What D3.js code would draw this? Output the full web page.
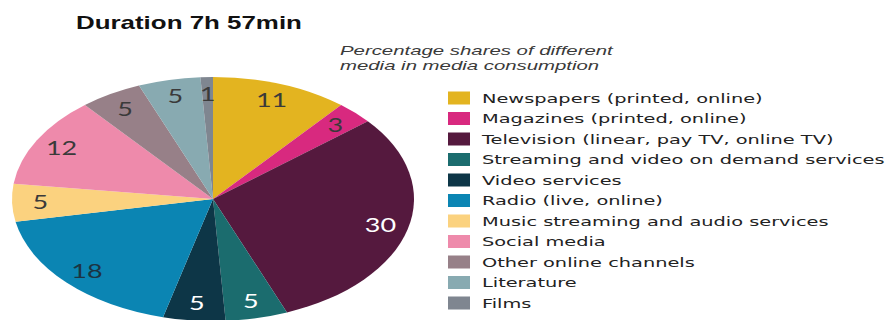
<!DOCTYPE html>
<html>
<head>
<meta charset="utf-8">
<script src="https://cdn.jsdelivr.net/npm/d3@7"></script>
<style>
  body { margin: 0; background: #fff; }
  svg { display: block; }
</style>
</head>
<body>
<script>
// Media consumption shares (percent), total duration 7h 57min
const categories = [
  "Newspapers (printed, online)",
  "Magazines (printed, online)",
  "Television (linear, pay TV, online TV)",
  "Streaming and video on demand services",
  "Video services",
  "Radio (live, online)",
  "Music streaming and audio services",
  "Social media",
  "Other online channels",
  "Literature",
  "Films"
];
const values = [11, 3, 30, 5, 5, 18, 5, 12, 5, 5, 1];
const colors = [
  "#e3b420", "#d8297f", "#55193e", "#1b6c6e", "#0d3647", "#0b85b3",
  "#fbd27f", "#ee8aab", "#978088", "#88aab1", "#7f8690"
];
const labelColors = [
  "#3a3a3a", "#3a3a3a", "#ffffff", "#ffffff", "#ffffff", "#1c3442",
  "#3a3a3a", "#3a3a3a", "#3a3a3a", "#3a3a3a", "#3a3a3a"
];
const title = "Duration 7h 57min";
const subtitle = ["Percentage shares of different", "media in media consumption"];

const W = 889, H = 320;
const svg = d3.select("body").append("svg").attr("width", W).attr("height", H);

// Stretch a text node horizontally so its width matches a target
function stretch(sel, x, y, target) {
  const w = sel.node().getComputedTextLength();
  const s = target / w;
  sel.attr("transform", `translate(${x},${y}) scale(${s},1)`);
  return s;
}

// Title
const t = svg.append("text")
  .attr("font-family", "'Liberation Sans', Arial, sans-serif")
  .attr("font-weight", "bold")
  .attr("font-size", 18)
  .attr("fill", "#111")
  .text(title);
stretch(t, 76, 29, 226);

// Subtitle (italic, two lines)
const st = svg.append("g")
  .attr("font-family", "'Liberation Sans', Arial, sans-serif")
  .attr("font-style", "italic")
  .attr("font-size", 13)
  .attr("fill", "#3a3a3a");
const sub1 = st.append("text").text(subtitle[0]);
const sSub = stretch(sub1, 340, 55, 273);
st.append("text").text(subtitle[1])
  .attr("transform", `translate(340,70) scale(${sSub},1)`);

// Pie (drawn as a circle, then squashed into an ellipse)
const R = 100;
const cx = 213, cy = 199, rx = 201, ry = 122;
const pie = d3.pie().sort(null).value(d => d.value);
const arcs = pie(categories.map((c, i) => ({ name: c, value: values[i] })));
const arc = d3.arc().innerRadius(0).outerRadius(R);

svg.append("g")
  .attr("transform", `translate(${cx},${cy}) scale(${rx / R},${ry / R})`)
  .selectAll("path")
  .data(arcs)
  .join("path")
  .attr("d", arc)
  .attr("fill", (d, i) => colors[i]);

// Value labels
const labelArc = d3.arc().innerRadius(R * 0.86).outerRadius(R * 0.86);
svg.append("g")
  .attr("font-family", "Lato, 'DejaVu Sans', sans-serif")
  .attr("font-size", 19)
  .attr("text-anchor", "middle")
  .selectAll("text")
  .data(arcs)
  .join("text")
  .attr("transform", d => {
    const [x, y] = labelArc.centroid(d);
    return `translate(${cx + x * rx / R},${cy + y * ry / R}) scale(1.42,1)`;
  })
  .attr("dy", "0.36em")
  .attr("fill", (d, i) => labelColors[i])
  .text(d => d.value);

// Legend
const legend = svg.append("g")
  .attr("font-family", "'DejaVu Sans', Verdana, sans-serif")
  .attr("font-size", 13)
  .attr("fill", "#222");
const y0 = 98, step = 20.5;
const rows = legend.selectAll("g")
  .data(categories)
  .join("g")
  .attr("transform", (d, i) => `translate(0,${y0 + i * step})`);
rows.append("rect")
  .attr("x", 448).attr("y", -6.5)
  .attr("width", 22).attr("height", 13)
  .attr("fill", (d, i) => colors[i]);
const texts = rows.append("text")
  .attr("dy", "0.36em")
  .text(d => d);
// one common stretch factor, taken from the widest entry
const widest = texts.filter((d, i) => i === 3).node().getComputedTextLength();
const sLeg = 403 / widest;
texts.attr("transform", `translate(482,0) scale(${sLeg},1)`);
</script>
</body>
</html>
